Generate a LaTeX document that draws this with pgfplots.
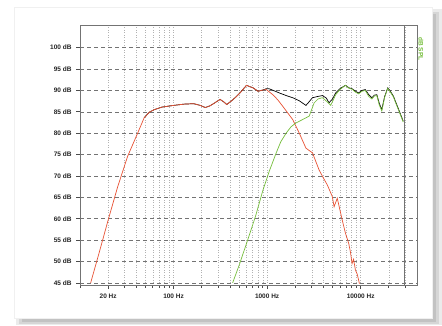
\documentclass[border=0pt]{standalone}
\usepackage{pgfplots}
\pgfplotsset{compat=1.18}
\usepackage{fontspec}
\setmainfont{Liberation Sans}
\definecolor{cred}{RGB}{232,82,52}
\definecolor{cgreen}{RGB}{118,190,60}
\begin{document}
\begin{tikzpicture}[x=1pt,y=1pt]
\path (0,0) rectangle (442,325);
% card shadow
\fill[black!8] (16,0) rectangle (442,316);
\fill[black!16] (19,1) rectangle (439,313);
\fill[black!24] (22,3) rectangle (436,311);
\fill[white] (14,7) rectangle (432,318);
\draw[black!6] (14,7) rectangle (432,318);
\begin{axis}[
  at={(80pt,40pt)}, anchor=south west,
  scale only axis, width=337pt, height=260pt,
  xmode=log, xmin=10, xmax=40000,
  ymin=44.5, ymax=105.3,
  axis line style={black!55, line width=0.9pt},
  ytick={45,50,...,100},
  yticklabels={45 dB,50 dB,55 dB,60 dB,65 dB,70 dB,75 dB,80 dB,85 dB,90 dB,95 dB,100 dB},
  xtick={20,100,1000,10000},
  xticklabels={20 Hz,100 Hz,1000 Hz,10000 Hz},
  minor xtick={10,30,40,50,60,70,80,90,200,300,400,500,600,700,800,900,2000,3000,4000,5000,6000,7000,8000,9000,20000,30000},
  tick align=outside, tick pos=left,
  major tick length=4pt, minor tick length=2.5pt,
  tick style={black!70, line width=0.7pt},
  ticklabel style={font=\fontsize{6.5}{7.5}\selectfont\bfseries, text=black!85},
  yticklabel style={xshift=-1pt},
  xticklabel style={yshift=-1pt},
  ymajorgrids, xminorgrids, xmajorgrids,
  major grid style={black!55, dash pattern=on 4pt off 3pt, line width=0.5pt},
  minor grid style={black!30, dotted, line width=0.5pt},
  x grid style={black!30, dotted, line width=0.5pt},
  clip=true,
]
\addplot[black, line width=0.7pt] coordinates {
(48.5,83.6) (55,84.9) (62,85.5) (75,86.1) (100,86.5) (130,86.8) (164,86.9) (193,86.5) (218,86.0) (245,86.4) (267,86.9) (314,87.9) (345,87.3) (370,86.7) (435,87.9) (512,89.4) (602,91.2) (650,90.9) (708,90.6) (800,89.8) (900,90.1) (980,90.4)
(1050,90.4) (1356,89.4) (1600,88.8) (1876,88.3) (2200,87.6) (2600,86.5) (2800,87.3) (3054,88.3) (3500,88.6) (3897,88.8) (4300,88.2) (4586,87.1) (5000,88.0) (5400,89.4) (6000,90.4) (6880,91.2) (7500,90.6) (8090,90.4) (8800,89.8) (9520,89.4) (10300,90.0) (11200,90.2) (12200,89.0) (13180,88.3) (14000,88.9) (14890,89.0) (15800,87.0) (16820,85.5) (18000,88.5) (19450,90.6) (20500,90.0) (22340,88.7) (25000,86.0) (28500,82.8)
};
\addplot[cred, line width=0.7pt] coordinates {
(13,45) (16,52) (20,59.7) (25.3,67.5) (32.3,74.6) (41.3,80) (48.5,83.6) (55,84.9) (62,85.5) (75,86.1) (100,86.5) (130,86.8) (164,86.9) (193,86.5) (218,86.0) (245,86.4) (267,86.9) (314,87.9) (345,87.3) (370,86.7) (435,87.9) (512,89.4) (602,91.2) (650,90.9) (708,90.6) (800,89.8) (900,90.1) (980,90.2) (1153,89.0) (1300,87.8) (1469,86.3) (1876,83.2) (2208,80.0) (2600,76.5) (3054,75.4) (3594,71.4) (4000,69.5) (4402,67.9) (4973,65.2) (5200,62.8) (5620,64.8) (6350,59.7) (6880,56.6) (7460,54.2) (7800,52) (8090,49.5) (8400,50.5) (8790,48) (9200,47) (9520,45.6) (9700,44.8)
};
\addplot[cgreen, line width=0.7pt] coordinates {
(428,45) (500,49) (602,54.2) (750,60.5) (903,66.7) (1050,71) (1251,75.4) (1400,78) (1597,80) (1800,81.5) (2038,82.4) (2400,83.2) (2818,84.0) (3184,87.1) (3500,88.0) (3897,88.3) (4300,87.5) (4780,86.5) (5100,87.8) (5400,89.0) (6000,90.2) (6880,91.2) (7500,90.5) (8090,90.3) (8800,89.6) (9520,89.2) (10300,89.8) (11200,90.0) (12200,88.6) (13180,88.0) (14000,88.7) (14890,88.8) (15800,86.6) (16820,85.2) (18000,88.3) (19450,90.5) (20500,89.8) (22340,88.5) (25000,85.8) (28500,82.6)
};
\draw[black!55, line width=0.9pt] (axis cs:29500,44.5) -- (axis cs:29500,105.3);
\end{axis}
\node[rotate=-90, text=cgreen, font=\fontsize{6.5}{7.5}\selectfont\bfseries] at (421,276) {dB SPL};
\end{tikzpicture}
\end{document}
